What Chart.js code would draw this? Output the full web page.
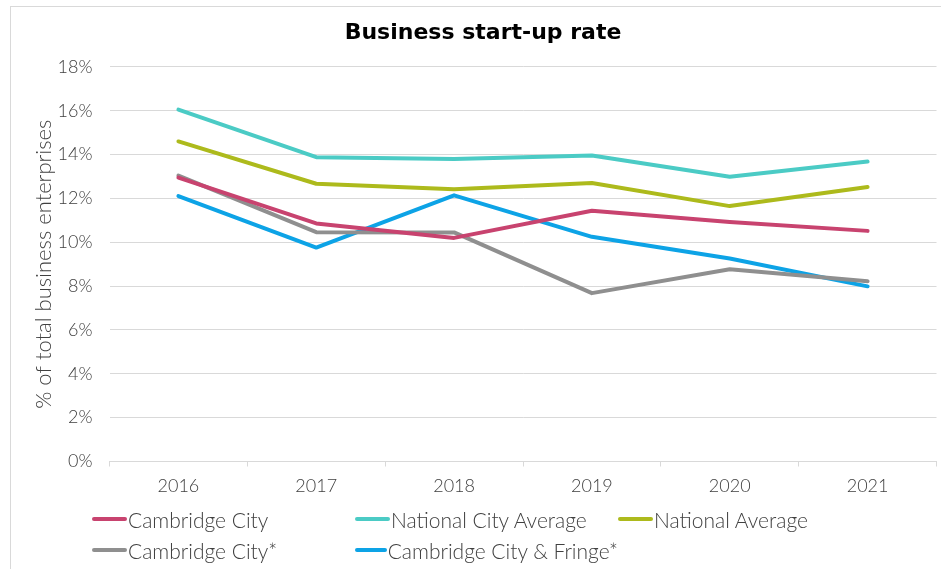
<!DOCTYPE html>
<html>
<head>
<meta charset="utf-8">
<title>Business start-up rate</title>
<script src="https://cdn.jsdelivr.net/npm/chart.js@4.4.0/dist/chart.umd.min.js"></script>
<style>
  html, body { margin: 0; padding: 0; background: #fff; overflow: hidden; }
  body { width: 941px; height: 569px; position: relative; }
  #marco { position: absolute; left: 10px; top: 6px; width: 980px; height: 600px; border: 1px solid #d9d9d9; box-sizing: border-box; }
  #lienzo { position: absolute; left: 0; top: 0; width: 966px; height: 569px; }
  #leyenda { position: absolute; left: 92px; top: 507px; display: grid; grid-template-columns: 263px 263px 263px; row-gap: 7px;
    font-family: Lato, "Open Sans", sans-serif; font-weight: 300; font-size: 21px; color: #404040; }
  .item { display: flex; align-items: center; height: 24px; white-space: nowrap; }
  .marca { width: 35px; height: 4px; border-radius: 2px; margin-right: 1px; }
</style>
</head>
<body>
<div id="marco"></div>
<canvas id="lienzo" width="966" height="569"></canvas>
<div id="leyenda"></div>
<script>
// datos
const anios = ['2016', '2017', '2018', '2019', '2020', '2021'];
const cambridgeCity = [12.95, 10.86, 10.2, 11.44, 10.93, 10.52];
const nacionalCiudad = [16.05, 13.88, 13.8, 13.96, 12.99, 13.68];
const nacionalMedia = [14.6, 12.67, 12.42, 12.7, 11.65, 12.52];
const cambridgeCityB = [13.04, 10.46, 10.45, 7.68, 8.77, 8.22];
const cambridgeFringe = [12.11, 9.76, 12.14, 10.25, 9.26, 7.99];
const ticksY = [0, 2, 4, 6, 8, 10, 12, 14, 16, 18];

const series = [
    { label: 'Cambridge City', data: cambridgeCity, color: '#C8436F' },
    { label: 'National City Average', data: nacionalCiudad, color: '#4BCBC5' },
    { label: 'National Average', data: nacionalMedia, color: '#ADBA1C' },
    { label: 'Cambridge City*', data: cambridgeCityB, color: '#8F8F8F' },
    { label: 'Cambridge City & Fringe*', data: cambridgeFringe, color: '#0DA3E6' }
];

const fuente = 'Lato, "Open Sans", sans-serif';

function crearGrafica() {
    const ctx = document.getElementById('lienzo').getContext('2d');

    new Chart(ctx, {
        type: 'line',
        data: {
            labels: anios,
            datasets: series.map(s => ({
                label: s.label,
                data: s.data,
                borderColor: s.color,
                backgroundColor: s.color,
                borderWidth: 4,
                pointRadius: 0,
                tension: 0,
                borderCapStyle: 'round',
                borderJoinStyle: 'round'
            }))
        },
        options: {
            responsive: false,
            animation: false,
            layout: { padding: { left: 0, right: 0, top: 0, bottom: 67.5 } },
            plugins: {
                legend: { display: false },
                tooltip: { enabled: false },
                title: {
                    display: true,
                    text: 'Business start-up rate',
                    color: '#000',
                    font: { family: '"DejaVu Sans", sans-serif', size: 22, weight: 'bold' },
                    padding: { top: 20, bottom: 20.5 }
                }
            },
            scales: {
                x: {
                    offset: true,
                    afterFit: s => { s.height = 40; },
                    grid: {
                        offset: true,
                        drawOnChartArea: false,
                        tickLength: 5,
                        color: '#d9d9d9'
                    },
                    border: { color: '#d9d9d9', width: 1 },
                    ticks: {
                        color: '#404040',
                        padding: 9,
                        font: { family: fuente, size: 18, weight: 300 }
                    }
                },
                y: {
                    min: 0,
                    max: 18,
                    afterFit: s => { s.width = 109.5; },
                    afterBuildTicks: s => {
                        s.ticks = [];
                        for (let v = 0; v <= 18; v++) s.ticks.push({ value: v });
                    },
                    grid: {
                        drawTicks: false,
                        color: c => (c.tick && c.tick.value % 2 === 0) ? '#d9d9d9' : '#f2f2f2',
                        lineWidth: 1
                    },
                    border: { display: false },
                    ticks: {
                        color: '#404040',
                        padding: 17,
                        font: { family: fuente, size: 18, weight: 300 },
                        callback: v => ticksY.includes(v) ? v + '%' : ''
                    },
                    title: {
                        display: true,
                        text: '% of total business enterprises',
                        color: '#404040',
                        font: { family: fuente, size: 22, weight: 300 },
                        padding: { top: 31, bottom: 0 }
                    }
                },
                // eje vacío a la derecha solo para dejar el margen
                margen: {
                    type: 'linear',
                    position: 'right',
                    afterFit: s => { s.width = 29.5; },
                    grid: { display: false },
                    border: { display: false },
                    ticks: { display: false }
                }
            }
        }
    });
}

function crearLeyenda() {
    const cont = document.getElementById('leyenda');
    series.forEach(s => {
        const item = document.createElement('div');
        item.className = 'item';
        const marca = document.createElement('span');
        marca.className = 'marca';
        marca.style.background = s.color;
        const texto = document.createElement('span');
        texto.textContent = s.label;
        item.appendChild(marca);
        item.appendChild(texto);
        cont.appendChild(item);
    });
}

crearGrafica();
crearLeyenda();
</script>
</body>
</html>
